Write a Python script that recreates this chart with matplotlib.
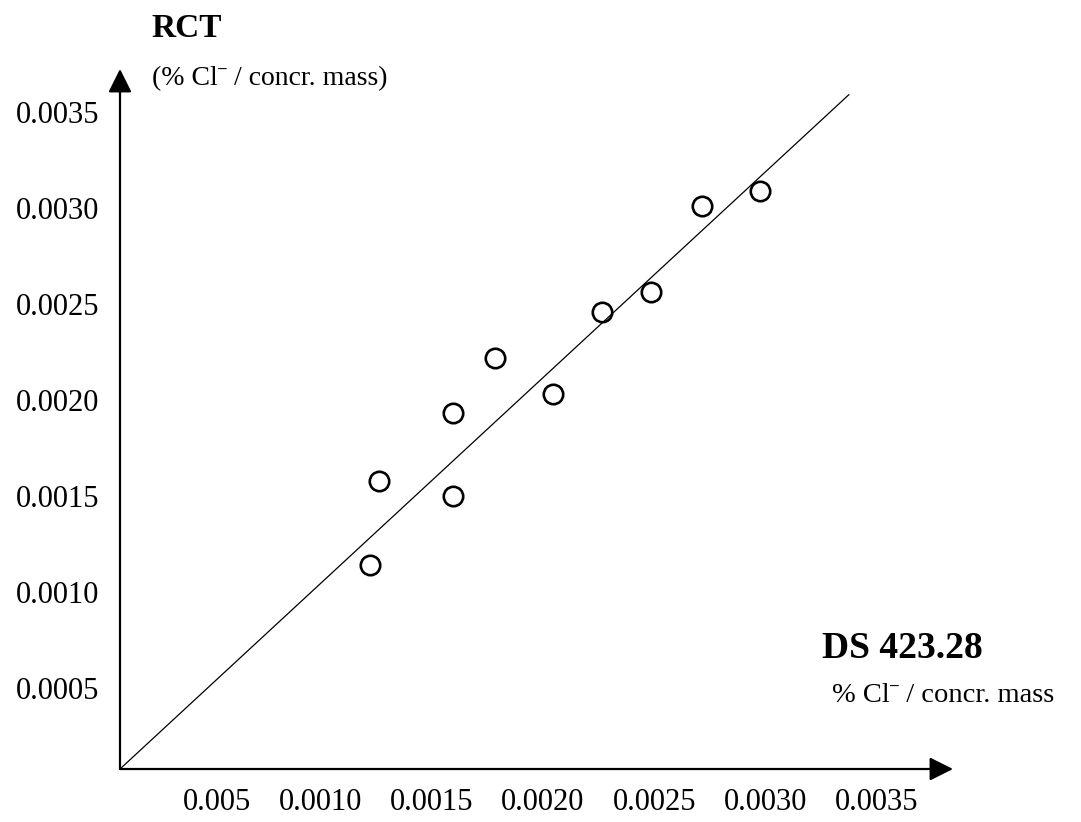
import matplotlib
matplotlib.use("Agg")
import matplotlib.pyplot as plt
import matplotlib.transforms as mtransforms

# data
ds_x = [0.00123, 0.00127, 0.00160, 0.00160, 0.00179, 0.00205, 0.00227, 0.00249, 0.00272, 0.00298]
rct_y = [0.00114, 0.00158, 0.00193, 0.00150, 0.00222, 0.00203, 0.00246, 0.00256, 0.00301, 0.00309]
fit_x = [0.000106, 0.00338]
fit_y = [0.000078, 0.00359]

x_ticks = [0.0005, 0.0010, 0.0015, 0.0020, 0.0025, 0.0030, 0.0035]
x_labels = ["0.005", "0.0010", "0.0015", "0.0020", "0.0025", "0.0030", "0.0035"]
y_ticks = [0.0005, 0.0010, 0.0015, 0.0020, 0.0025, 0.0030, 0.0035]
y_labels = ["0.0005", "0.0010", "0.0015", "0.0020", "0.0025", "0.0030", "0.0035"]

plt.rcParams["font.family"] = ["Liberation Serif", "DejaVu Serif"]

W, H = 1081, 822
fig = plt.figure(figsize=(W / 100, H / 100), dpi=100)
ox, oy = 120, 769   # axis origin (px)
tx, ty = 953, 69    # arrow tips (px)
ax = fig.add_axes([ox / W, 1 - oy / H, (tx - ox) / W, (oy - ty) / H])
ax.set_xlim(0.000106, 0.003848)
ax.set_ylim(0.000078, 0.003724)

for s in ax.spines.values():
    s.set_visible(False)

arrow = dict(arrowstyle="-|>,head_length=1.3,head_width=0.65", mutation_scale=11,
             lw=1.6, color="black", shrinkA=0, shrinkB=0)
ax.annotate("", xy=(0, 1), xytext=(0, 0), xycoords="axes fraction", arrowprops=arrow,
            annotation_clip=False)
ax.annotate("", xy=(1, 0), xytext=(0, 0), xycoords="axes fraction", arrowprops=arrow,
            annotation_clip=False)

ax.plot(fit_x, fit_y, color="black", lw=0.9, clip_on=False)
ax.plot(ds_x, rct_y, "o", mfc="none", mec="black", ms=14, mew=1.9, clip_on=False)

ax.set_xticks(x_ticks, x_labels)
ax.set_yticks(y_ticks, y_labels)
ax.tick_params(axis="both", length=0, labelsize=22)
ax.tick_params(axis="y", pad=15)
ax.tick_params(axis="x", pad=14)
shift = mtransforms.ScaledTranslation(0.43, 0, fig.dpi_scale_trans)
for lab in ax.get_xticklabels():
    lab.set_ha("right")
    lab.set_transform(lab.get_transform() + shift)

fig.text(187 / W, 1 - 37 / H, "RCT", ha="center", va="baseline", fontsize=24, fontweight="bold")
fig.text(152 / W, 1 - 85 / H, "(% Cl\u02c9 / concr. mass)", ha="left", va="baseline", fontsize=20)
fig.text(822 / W, 1 - 658 / H, "DS 423.28", ha="left", va="baseline", fontsize=27, fontweight="bold")
fig.text(832 / W, 1 - 702 / H, "% Cl\u02c9 / concr. mass", ha="left", va="baseline", fontsize=20.5)

fig.savefig("out.png", dpi=100)
